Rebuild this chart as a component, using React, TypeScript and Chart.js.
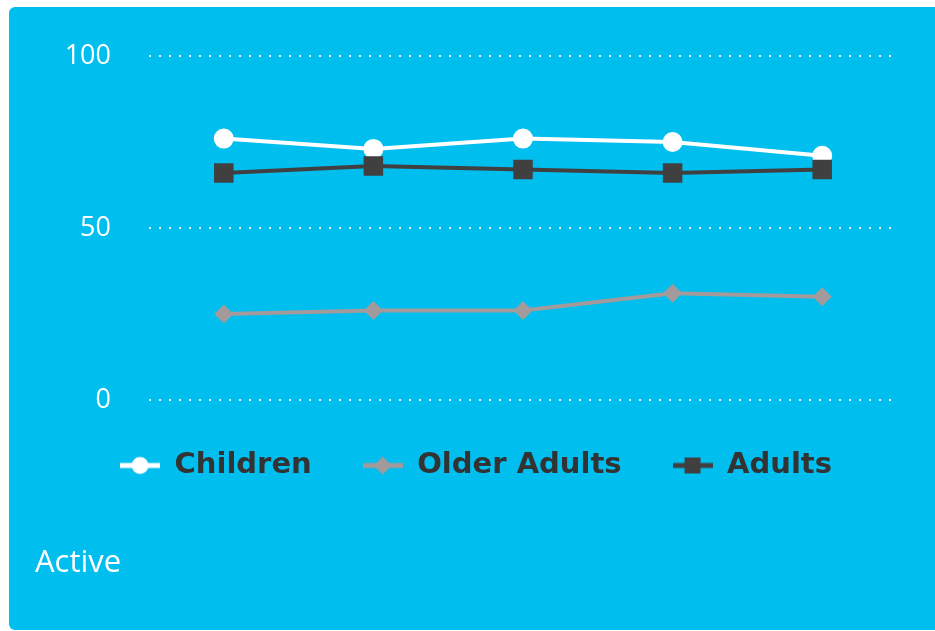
import React, { useEffect, useRef } from "react";
import { Chart, registerables } from "chart.js";

Chart.register(...registerables);

const categories = ["P1", "P2", "P3", "P4", "P5"];
const seriesNames = ["Children", "Older Adults", "Adults"];
const childrenValues = [76, 73, 76, 75, 71];
const olderAdultsValues = [25, 26, 26, 31, 30];
const adultsValues = [66, 68, 67, 66, 67];
const yTicks = [0, 50, 100];
const footerLabel = "Active";

const PANEL_BG = "rgb(0,190,237)";
const WHITE = "#ffffff";
const GRAY = "#a39a9b";
const DARK = "#404040";

function makeLegendMarker(color: string, shape: "circle" | "diamond" | "square"): HTMLCanvasElement {
  const c = document.createElement("canvas");
  c.width = 40;
  c.height = 22;
  const ctx = c.getContext("2d")!;
  ctx.strokeStyle = color;
  ctx.fillStyle = color;
  ctx.lineWidth = 5;
  ctx.beginPath();
  ctx.moveTo(0, 11);
  ctx.lineTo(40, 11);
  ctx.stroke();
  ctx.beginPath();
  if (shape === "circle") {
    ctx.arc(20, 11, 8.5, 0, Math.PI * 2);
  } else if (shape === "diamond") {
    ctx.moveTo(20, 2);
    ctx.lineTo(29, 11);
    ctx.lineTo(20, 20);
    ctx.lineTo(11, 11);
    ctx.closePath();
  } else {
    ctx.rect(12, 3, 16, 16);
  }
  ctx.fill();
  return c;
}

export default function App() {
  const canvasRef = useRef<HTMLCanvasElement | null>(null);

  useEffect(() => {
    if (!canvasRef.current) return;
    const markers = [
      makeLegendMarker(WHITE, "circle"),
      makeLegendMarker(GRAY, "diamond"),
      makeLegendMarker(DARK, "square"),
    ];
    const chart = new Chart(canvasRef.current, {
      type: "line",
      data: {
        labels: categories,
        datasets: [
          {
            label: seriesNames[0],
            data: childrenValues,
            borderColor: WHITE,
            backgroundColor: WHITE,
            pointBackgroundColor: WHITE,
            pointBorderColor: WHITE,
            pointBorderWidth: 0,
            pointStyle: "circle",
            pointRadius: 10,
            borderWidth: 4,
            tension: 0,
            order: 2,
          },
          {
            label: seriesNames[1],
            data: olderAdultsValues,
            borderColor: GRAY,
            backgroundColor: GRAY,
            pointBackgroundColor: GRAY,
            pointBorderColor: GRAY,
            pointBorderWidth: 0,
            pointStyle: "rectRot",
            pointRadius: 9.5,
            borderWidth: 4,
            tension: 0,
            order: 1,
          },
          {
            label: seriesNames[2],
            data: adultsValues,
            borderColor: DARK,
            backgroundColor: DARK,
            pointBackgroundColor: DARK,
            pointBorderColor: DARK,
            pointBorderWidth: 0,
            pointStyle: "rect",
            pointRadius: 13.8,
            borderWidth: 4,
            tension: 0,
            order: 0,
          },
        ],
      },
      options: {
        animation: false,
        responsive: true,
        maintainAspectRatio: false,
        layout: { padding: { left: 46, right: 38, top: 49, bottom: 140 } },
        scales: {
          x: {
            display: false,
            offset: true,
          },
          y: {
            min: 0,
            max: 100,
            afterBuildTicks: (scale: any) => {
              scale.ticks = yTicks.map((v) => ({ value: v }));
            },
            afterFit: (scale: any) => {
              scale.width = 94;
              scale.paddingTop = 0;
              scale.paddingBottom = 0;
            },
            grid: {
              color: "rgba(255,255,255,0.9)",
              lineWidth: 2,
              drawTicks: false,
            },
            border: { display: false, dash: [2, 8] },
            ticks: {
              color: WHITE,
              padding: 38,
              font: { family: "Open Sans", size: 27 },
            },
          },
        },
        plugins: {
          tooltip: { enabled: false },
          legend: {
            position: "bottom",
            labels: {
              usePointStyle: true,
              pointStyleWidth: 40,
              padding: 51,
              color: "#333333",
              font: { family: "DejaVu Sans", weight: "bold", size: 29 },
              sort: (a: any, b: any) => a.datasetIndex - b.datasetIndex,
              generateLabels: (ch: any) => {
                const items = (Chart.defaults.plugins.legend.labels as any).generateLabels(ch);
                items.forEach((it: any) => {
                  it.pointStyle = markers[it.datasetIndex];
                });
                return items;
              },
            },
          },
        },
      },
    });
    return () => chart.destroy();
  }, []);

  return (
    <div
      style={{
        position: "fixed",
        left: 9,
        top: 7,
        right: 0,
        bottom: 1,
        background: PANEL_BG,
        borderRadius: "6px 0 0 6px",
        overflow: "hidden",
      }}
    >
      <canvas ref={canvasRef} />
      <div
        style={{
          position: "absolute",
          left: 26,
          top: 532,
          color: WHITE,
          fontFamily: "'Open Sans'",
          fontSize: 31,
          lineHeight: "42px",
          whiteSpace: "nowrap",
        }}
      >
        {footerLabel}
      </div>
    </div>
  );
}
